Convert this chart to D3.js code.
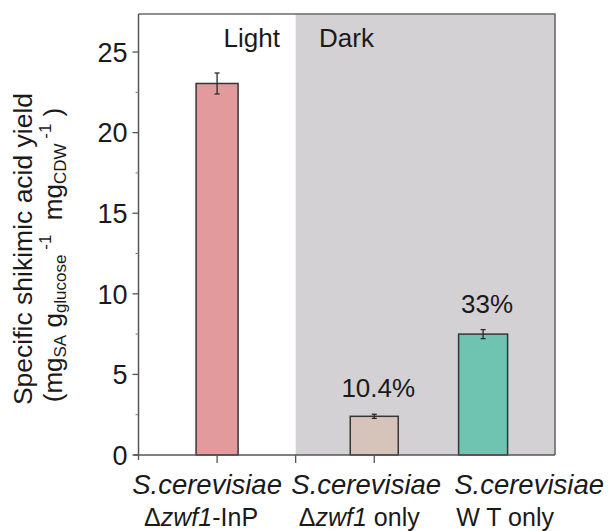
<!DOCTYPE html>
<html>
<head>
<meta charset="utf-8">
<script src="https://cdn.jsdelivr.net/npm/d3@7"></script>
<style>
  html, body { margin: 0; padding: 0; background: #fff; }
  svg { display: block; font-family: "Liberation Sans", Arial, Helvetica, sans-serif; }
</style>
</head>
<body>
<svg id="chart" width="611" height="531"></svg>
<script>
// Shikimic acid yield per strain (mg SA / g glucose / mg CDW)
const strains = ["Δzwf1-InP", "Δzwf1 only", "WT only"];
const yieldMean = [23.05, 2.4, 7.5];
const yieldErr = [0.65, 0.13, 0.28];
const relativeLabels = [null, "10.4%", "33%"];
const barColors = ["#e29a9c", "#d6c4ba", "#6fc3b1"];
const yTicksMajor = [0, 5, 10, 15, 20, 25];
const yTicksMinor = [2.5, 7.5, 12.5, 17.5, 22.5];
const xTicks = [0, 1, 2, 3];

// layout
const plot = { left: 138.5, right: 555, top: 14, bottom: 455 };
const slotPos = [1, 3, 4.385];        // bar centres on the x axis
const barPx = [42, 48, 49];           // bar widths in px
const darkFrom = 2;                   // start of the "Dark" region on the x axis

const svg = d3.select("#chart");
const x = d3.scaleLinear().domain([0, 5.3]).range([plot.left, plot.right]);
const y = d3.scaleLinear().domain([0, 27.36]).range([plot.bottom, plot.top]);

// Dark region shading
svg.append("rect")
  .attr("x", x(darkFrom)).attr("y", plot.top)
  .attr("width", plot.right - x(darkFrom)).attr("height", plot.bottom - plot.top)
  .attr("fill", "#d3d1d3");

// Frame (top and right)
svg.append("path")
  .attr("d", `M${plot.left},${plot.top}H${plot.right}V${plot.bottom}`)
  .attr("fill", "none").attr("stroke", "#6a6a6a").attr("stroke-width", 1.6);

// Region labels
svg.append("text").attr("x", 280).attr("y", 47).attr("text-anchor", "end")
  .attr("font-size", 26).attr("fill", "#1a1a1a").text("Light");
svg.append("text").attr("x", 319).attr("y", 47).attr("text-anchor", "start")
  .attr("font-size", 26).attr("fill", "#1a1a1a").text("Dark");

// Bars
const data = strains.map((s, i) => ({ s, v: yieldMean[i], e: yieldErr[i], c: barColors[i], p: slotPos[i], w: barPx[i], lab: relativeLabels[i] }));

svg.selectAll("rect.bar").data(data).enter().append("rect")
  .attr("class", "bar")
  .attr("x", d => x(d.p) - d.w / 2)
  .attr("y", d => y(d.v))
  .attr("width", d => d.w)
  .attr("height", d => y(0) - y(d.v))
  .attr("fill", d => d.c)
  .attr("stroke", "#363636").attr("stroke-width", 1.5);

// Error bars
const eb = svg.selectAll("g.err").data(data).enter().append("g").attr("class", "err")
  .attr("stroke", "#2a2a2a").attr("stroke-width", 1.3);
eb.append("line")
  .attr("x1", d => x(d.p)).attr("x2", d => x(d.p))
  .attr("y1", d => y(d.v - d.e)).attr("y2", d => y(d.v + d.e));
eb.append("line")
  .attr("x1", d => x(d.p) - 2.5).attr("x2", d => x(d.p) + 2.5)
  .attr("y1", d => y(d.v + d.e)).attr("y2", d => y(d.v + d.e));
eb.append("line")
  .attr("x1", d => x(d.p) - 2.5).attr("x2", d => x(d.p) + 2.5)
  .attr("y1", d => y(d.v - d.e)).attr("y2", d => y(d.v - d.e));

// Relative yield labels
svg.selectAll("text.rel").data(data.filter(d => d.lab)).enter().append("text")
  .attr("class", "rel")
  .attr("x", d => x(d.p) + 4)
  .attr("y", d => y(d.v + d.e) - 17)
  .attr("text-anchor", "middle").attr("font-size", 26).attr("fill", "#1a1a1a")
  .text(d => d.lab);

// Y axis
const yAxis = svg.append("g").attr("transform", `translate(${plot.left},0)`);
yAxis.append("line").attr("x1", 0).attr("x2", 0).attr("y1", plot.top).attr("y2", plot.bottom)
  .attr("stroke", "#555").attr("stroke-width", 1.5);
yAxis.selectAll("line.maj").data(yTicksMajor).enter().append("line")
  .attr("x1", -6).attr("x2", 0).attr("y1", d => y(d)).attr("y2", d => y(d))
  .attr("stroke", "#555").attr("stroke-width", 1.3);
yAxis.selectAll("line.min").data(yTicksMinor).enter().append("line")
  .attr("x1", -3).attr("x2", 0).attr("y1", d => y(d)).attr("y2", d => y(d))
  .attr("stroke", "#777").attr("stroke-width", 1);
yAxis.selectAll("text").data(yTicksMajor).enter().append("text")
  .attr("x", -11).attr("y", d => y(d)).attr("dy", "0.36em")
  .attr("text-anchor", "end").attr("font-size", 27).attr("fill", "#1a1a1a")
  .text(d => d);

// X axis
const xAxis = svg.append("g").attr("transform", `translate(0,${plot.bottom})`);
xAxis.append("line").attr("x1", plot.left - 5).attr("x2", plot.right).attr("y1", 0).attr("y2", 0)
  .attr("stroke", "#555").attr("stroke-width", 1.5);
xAxis.selectAll("line.tk").data(xTicks).enter().append("line")
  .attr("x1", d => x(d)).attr("x2", d => x(d))
  .attr("y1", 0).attr("y2", d => d === 0 ? 5 : 8)
  .attr("stroke", "#555").attr("stroke-width", 1.3);

// Category labels (two lines each)
const catLine1Dx = [-10, -8, 46];
const catLine2Dx = [-16, -15, 22];
const catLines2 = [
  [{ t: "Δ" }, { t: "zwf1", it: true }, { t: "-InP" }],
  [{ t: "Δ" }, { t: "zwf1", it: true }, { t: " only" }],
  [{ t: "W T only" }]
];
data.forEach((d, i) => {
  svg.append("text")
    .attr("x", x(d.p) + catLine1Dx[i]).attr("y", 494)
    .attr("text-anchor", "middle").attr("font-size", 27.5).attr("font-style", "italic")
    .attr("fill", "#1a1a1a").text("S.cerevisiae");
  const t2 = svg.append("text")
    .attr("x", x(d.p) + catLine2Dx[i]).attr("y", 526)
    .attr("text-anchor", "middle").attr("font-size", 25).attr("fill", "#1a1a1a");
  catLines2[i].forEach(seg => {
    t2.append("tspan").attr("font-style", seg.it ? "italic" : "normal").text(seg.t);
  });
});

// Y axis title
const title = svg.append("g");
title.append("text")
  .attr("transform", "translate(32,249) rotate(-90)")
  .attr("text-anchor", "middle").attr("font-size", 26.5).attr("fill", "#1a1a1a")
  .text("Specific shikimic acid yield");
const t2 = title.append("text")
  .attr("transform", "translate(62,255) rotate(-90)")
  .attr("text-anchor", "middle").attr("font-size", 26).attr("fill", "#1a1a1a");
const segs = [
  { t: "(mg" },
  { t: "SA", sub: true },
  { t: " g" },
  { t: "glucose", sub: true },
  { t: " -1", sup: true },
  { t: "  mg" },
  { t: "CDW", sub: true },
  { t: " -1", sup: true },
  { t: " )" }
];
let shift = 0;
segs.forEach(s => {
  const target = s.sub ? 4 : s.sup ? -11 : 0;
  t2.append("tspan")
    .attr("dy", target - shift)
    .attr("font-size", (s.sub || s.sup) ? 17 : 26)
    .attr("xml:space", "preserve")
    .style("white-space", "pre")
    .text(s.t);
  shift = target;
});
</script>
</body>
</html>
